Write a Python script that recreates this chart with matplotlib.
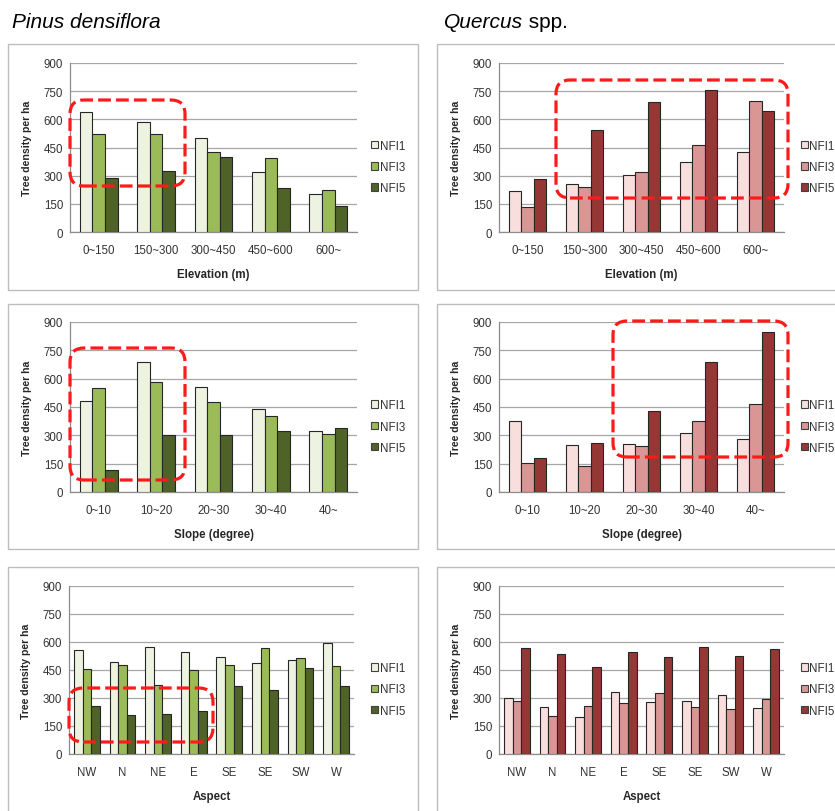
import numpy as np
import matplotlib
matplotlib.use("Agg")
import matplotlib.pyplot as plt
from matplotlib.patches import FancyBboxPatch, Rectangle, Patch
from matplotlib.transforms import IdentityTransform

plt.rcParams['font.family'] = ['Liberation Sans', 'DejaVu Sans']

# ---------------- data ----------------
series_names = ["NFI1", "NFI3", "NFI5"]
elev_cats = ["0~150", "150~300", "300~450", "450~600", "600~"]
slope_cats = ["0~10", "10~20", "20~30", "30~40", "40~"]
aspect_cats = ["NW", "N", "NE", "E", "SE", "SE", "SW", "W"]
y_ticks = [0, 150, 300, 450, 600, 750, 900]

pinus_elev_nfi1 = [641, 588, 503, 321, 201]
pinus_elev_nfi3 = [520, 520, 424, 392, 223]
pinus_elev_nfi5 = [290, 323, 397, 232, 137]

quercus_elev_nfi1 = [218, 255, 305, 372, 428]
quercus_elev_nfi3 = [135, 240, 318, 462, 695]
quercus_elev_nfi5 = [280, 545, 690, 758, 643]

pinus_slope_nfi1 = [480, 690, 558, 440, 325]
pinus_slope_nfi3 = [553, 585, 475, 403, 308]
pinus_slope_nfi5 = [115, 300, 303, 325, 340]

quercus_slope_nfi1 = [378, 248, 252, 312, 280]
quercus_slope_nfi3 = [153, 140, 242, 378, 468]
quercus_slope_nfi5 = [180, 262, 428, 688, 845]

pinus_aspect_nfi1 = [558, 492, 575, 548, 520, 488, 505, 595]
pinus_aspect_nfi3 = [455, 478, 368, 450, 478, 570, 515, 472]
pinus_aspect_nfi5 = [255, 210, 215, 228, 365, 345, 463, 365]

quercus_aspect_nfi1 = [300, 250, 198, 332, 278, 282, 318, 245]
quercus_aspect_nfi3 = [285, 203, 258, 272, 328, 253, 243, 295]
quercus_aspect_nfi5 = [570, 535, 465, 545, 518, 575, 525, 560]

green_colors = ["#eef3e1", "#9bbb59", "#4f6228"]
red_colors = ["#f8dedd", "#d99694", "#953735"]

# ---------------- figure ----------------
W, H = 835, 812
fig = plt.figure(figsize=(W / 100, H / 100), dpi=100)
fig.patch.set_facecolor("white")


def px_rect(x0, y0, x1, y1):
    """convert top-left pixel box to figure fraction [l, b, w, h]"""
    return [x0 / W, 1 - y1 / H, (x1 - x0) / W, (y1 - y0) / H]


# chart-area frames
frames = [(8, 45, 418, 291), (437, 45, 900, 291),
          (8, 305, 418, 550), (437, 305, 900, 550),
          (8, 568, 418, 900), (437, 568, 900, 900)]
for (x0, y0, x1, y1) in frames:
    fig.add_artist(Rectangle((x0, H - y1), x1 - x0, y1 - y0, transform=IdentityTransform(),
                             fill=False, ec="#bdbdbd", lw=1.0))

# titles
fig.text(12 / W, 1 - 28 / H, "Pinus densiflora", fontsize=15, style="italic",
         ha="left", va="baseline", color="black")
t2 = fig.text(444 / W, 1 - 28 / H, "Quercus", fontsize=15, style="italic",
              ha="left", va="baseline", color="black")
fig.canvas.draw()
ext = t2.get_window_extent()
fig.text(ext.x1 / W, 1 - 28 / H, " spp.", fontsize=15, ha="left", va="baseline",
         color="black")


def panel(rect_px, cats, vals, colors, xlabel, leg_x):
    ax = fig.add_axes(px_rect(*rect_px))
    n = len(cats)
    x = np.arange(n)
    bw = 0.22 if n == 5 else 0.24
    for i, (v, c) in enumerate(zip(vals, colors)):
        ax.bar(x + (i - 1) * bw, v, width=bw, color=c, edgecolor="#262626", lw=0.8,
               zorder=3)
    ax.set_xlim(-0.5, n - 0.5)
    ax.set_ylim(0, 900)
    ax.set_yticks(y_ticks)
    ax.set_xticks(x)
    ax.set_xticklabels(cats)
    ax.yaxis.grid(True, color="#a6a6a6", lw=0.9, zorder=0)
    ax.set_axisbelow(True)
    for s in ["top", "right"]:
        ax.spines[s].set_visible(False)
    for s in ["left", "bottom"]:
        ax.spines[s].set_color("#8c8c8c")
        ax.spines[s].set_linewidth(0.9)
    ax.tick_params(axis="both", length=0, labelsize=8.3, colors="#333333")
    ax.tick_params(axis="x", pad=8.5)
    ax.tick_params(axis="y", pad=5)
    ax.set_ylabel("Tree density per ha", fontsize=7.6, fontweight="bold", color="#262626",
                  labelpad=8)
    ax.set_xlabel(xlabel, fontsize=8.3, fontweight="bold", color="#262626", labelpad=9)
    handles = [Patch(facecolor=c, edgecolor="#404040", lw=0.8) for c in colors]
    ax.legend(handles, series_names, loc="center left", bbox_to_anchor=(leg_x, 0.385),
              frameon=False, fontsize=8.4, handlelength=0.6, handleheight=0.6,
              handletextpad=0.15, labelspacing=0.8, borderpad=0, borderaxespad=0,
              labelcolor="#333333")
    return ax


panel((70, 64, 357, 233), elev_cats, [pinus_elev_nfi1, pinus_elev_nfi3, pinus_elev_nfi5],
      green_colors, "Elevation (m)", 1.05)
panel((499, 64, 784, 233), elev_cats, [quercus_elev_nfi1, quercus_elev_nfi3, quercus_elev_nfi5],
      red_colors, "Elevation (m)", 1.058)
panel((70, 323, 357, 493), slope_cats, [pinus_slope_nfi1, pinus_slope_nfi3, pinus_slope_nfi5],
      green_colors, "Slope (degree)", 1.05)
panel((499, 323, 784, 493), slope_cats, [quercus_slope_nfi1, quercus_slope_nfi3, quercus_slope_nfi5],
      red_colors, "Slope (degree)", 1.058)
panel((69, 587, 354, 755), aspect_cats, [pinus_aspect_nfi1, pinus_aspect_nfi3, pinus_aspect_nfi5],
      green_colors, "Aspect", 1.06)
panel((499, 587, 784, 755), aspect_cats, [quercus_aspect_nfi1, quercus_aspect_nfi3, quercus_aspect_nfi5],
      red_colors, "Aspect", 1.058)

# red dashed highlight boxes (pixel coordinates, top-left origin)
boxes = [(70, 101, 185, 187), (556, 81, 788, 199), (70, 349, 185, 481),
         (613, 322, 788, 458), (69, 689, 213, 743)]
for (x0, y0, x1, y1) in boxes:
    fig.add_artist(FancyBboxPatch((x0, H - y1), x1 - x0, y1 - y0,
                                  boxstyle="round,pad=0,rounding_size=14",
                                  transform=IdentityTransform(), fill=False,
                                  ec="#ff1a1a", lw=2.3, ls=(0, (4.0, 1.6)), zorder=10))

fig.savefig("out.png", dpi=100)
